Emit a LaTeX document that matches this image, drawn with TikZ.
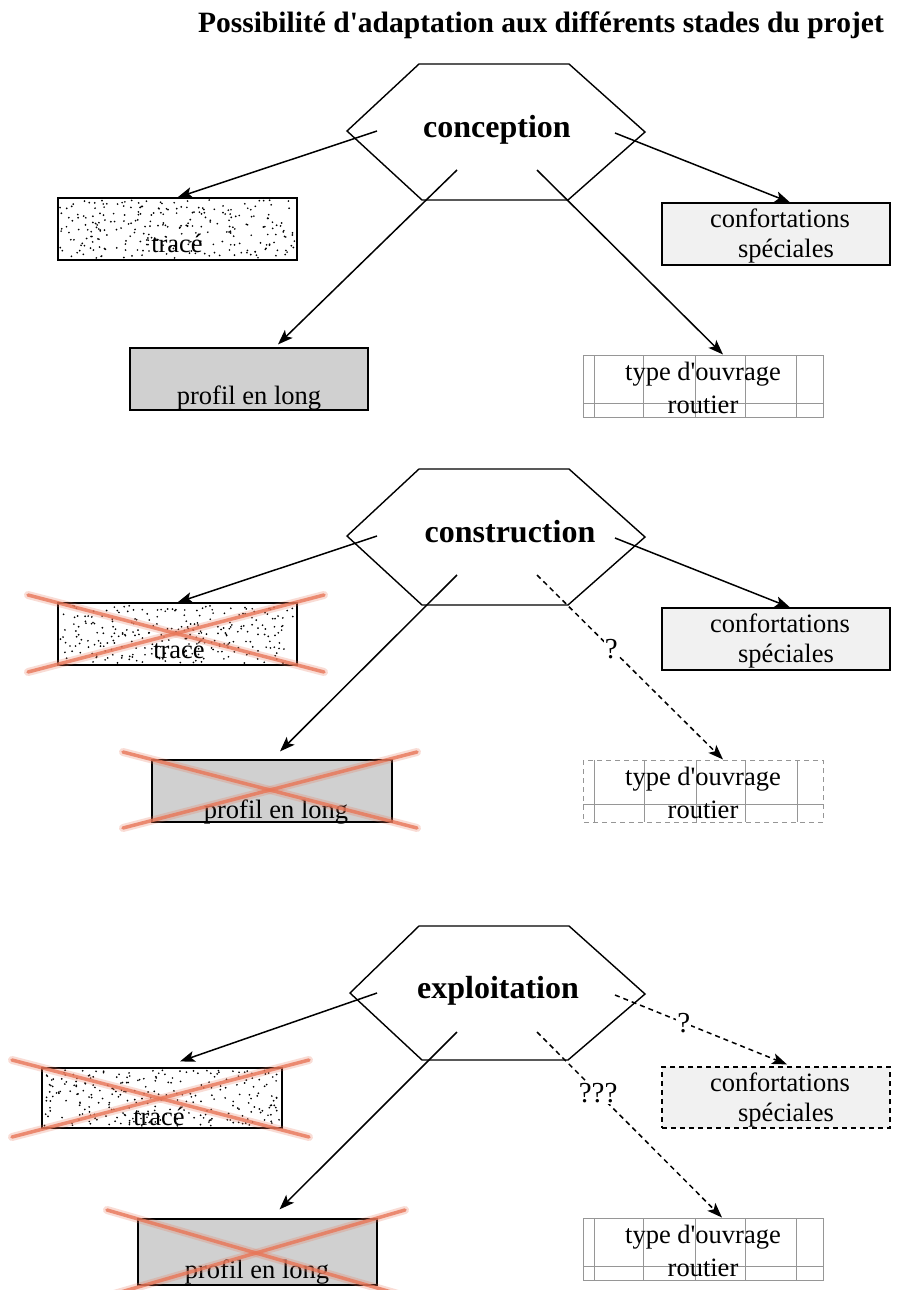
\documentclass[tikz,border=0pt]{standalone}
\usepackage{fontspec}
\setmainfont{Liberation Serif}
\usetikzlibrary{arrows.meta,calc}
\definecolor{crossred}{RGB}{232,118,88}
\definecolor{gridgray}{RGB}{150,150,150}
\definecolor{profgray}{RGB}{208,208,208}
\definecolor{confgray}{RGB}{241,241,241}
\newcommand\mystipple[4]{% x0 y0 w h
  \foreach \i in {1,...,270} {\fill[black] ({#1+2+rnd*(#3-4)},{#2+2+rnd*(#4-4)}) circle (0.95);}}
\newcommand\mycross[4]{% x1 y1 x2 y2
  \draw[crosshalo] (#1,#2) -- (#3,#4); \draw[crosshalo] (#1,#4) -- (#3,#2);
  \draw[crossline] (#1,#2) -- (#3,#4); \draw[crossline] (#1,#4) -- (#3,#2);}
\tikzset{
  hexa/.style={draw=black, line width=1.4pt, fill=white, line join=miter},
  arr/.style={line width=1.5pt, -{Stealth[length=15pt,width=11pt,inset=3.5pt]}},
  darr/.style={arr, dash pattern=on 5pt off 4pt},
  boxlbl/.style={font=\fontsize{26.5}{30}\selectfont, inner sep=0pt, anchor=base},
  hexlbl/.style={font=\bfseries\fontsize{32}{36}\selectfont, inner sep=0pt, anchor=base},
  qlbl/.style={font=\fontsize{29}{30}\selectfont, inner sep=0pt},
  titlelbl/.style={font=\bfseries\fontsize{29.5}{32}\selectfont, inner sep=0pt, anchor=base},
  crossline/.style={line width=3.5pt, draw=crossred, opacity=0.8, line cap=round},
  crosshalo/.style={line width=8pt, draw=crossred, opacity=0.25, line cap=round},
  solidbox/.style={draw=black, line width=1.2pt, inner sep=0pt},
  gridbox/.style={draw=gridgray, line width=1pt, inner sep=0pt, minimum width=240pt, minimum height=62pt},
  gridline/.style={draw=gridgray, line width=1pt},
  dgridline/.style={gridline, dash pattern=on 5pt off 4pt},
}
\begin{document}
\begin{tikzpicture}[x=1pt,y=-1pt]
\useasboundingbox (0,0) rectangle (899,1290);
\clip (0,0) rectangle (899,1290);
\fill[white] (0,0) rectangle (899,1290);
\pgfmathsetseed{7}

% title
\node[titlelbl] (title) at (541,33) {Possibilité d\textquotesingle adaptation aux différents stades du projet};

% ================= section 1 : conception =================
\draw[hexa] (419,64) -- (569,64) -- (645,132) -- (568,200) -- (422,200) -- (347,131) -- cycle;
\node[hexlbl] (hex1) at (497,137) {conception};
\coordinate (s1a) at (377,131);
\coordinate (s1b) at (457,170);
\coordinate (s1c) at (537,170);
\coordinate (s1d) at (615,133);

\node[solidbox, fill=white, minimum width=239pt, minimum height=62pt] (trace1) at (177.5,229) {};
\mystipple{58}{198}{239}{62}
\node[boxlbl] (tracet1) at (177,252) {tracé};

\node[solidbox, fill=confgray, minimum width=228pt, minimum height=62pt] (conf1) at (776,234) {};
\node[boxlbl] (conft1a) at (780,227) {confortations};
\node[boxlbl] (conft1b) at (786,257) {spéciales};

\node[solidbox, fill=profgray, minimum width=238pt, minimum height=62pt] (prof1) at (249,379) {};
\node[boxlbl] (proft1) at (249,404) {profil en long};

\node[gridbox] (type1) at (703,386) {};
\foreach \x in {594,643,695,745,796} {\draw[gridline] (\x,355) -- (\x,417);}
\draw[gridline] (583,403) -- (823,403);
\node[boxlbl] (typet1a) at (703,380) {type d\textquotesingle ouvrage};
\node[boxlbl] (typet1b) at (703,413) {routier};

\draw[arr] (s1a) -- (trace1.north);
\draw[arr] (s1b) -- ([xshift=29pt,yshift=3pt]prof1.north);
\draw[arr] (s1c) -- ([xshift=20pt]type1.north);
\draw[arr] (s1d) -- ([xshift=14pt]conf1.north);

% ================= section 2 : construction =================
\draw[hexa] (419,469) -- (569,469) -- (645,537) -- (568,605) -- (422,605) -- (347,536) -- cycle;
\node[hexlbl] (hex2) at (510,542) {construction};
\coordinate (s2a) at (377,536);
\coordinate (s2b) at (457,575);
\coordinate (s2c) at (537,575);
\coordinate (s2d) at (615,538);

\node[solidbox, fill=white, minimum width=239pt, minimum height=62pt] (trace2) at (177.5,634) {};
\mystipple{58}{603}{239}{62}
\node[boxlbl] (tracet2) at (179,658) {tracé};
\mycross{28}{595}{324}{672}

\node[solidbox, fill=confgray, minimum width=228pt, minimum height=62pt] (conf2) at (776,639) {};
\node[boxlbl] (conft2a) at (780,632) {confortations};
\node[boxlbl] (conft2b) at (786,662) {spéciales};

\node[solidbox, fill=profgray, minimum width=240pt, minimum height=62pt] (prof2) at (272,791) {};
\node[boxlbl] (proft2) at (276,818) {profil en long};
\mycross{123}{752}{417}{828}

\node[gridbox, draw=none] (type2) at (703,791) {};
\draw[dgridline] (583,760) rectangle (823,822);
\foreach \x in {594,644,696,745,797} {\draw[gridline] (\x,760) -- (\x,822);}
\draw[gridline] (583,804) -- (823,804);
\node[boxlbl] (typet2a) at (703,785) {type d\textquotesingle ouvrage};
\node[boxlbl] (typet2b) at (703,818) {routier};

\draw[arr] (s2a) -- (trace2.north);
\draw[arr] (s2b) -- ([xshift=8pt,yshift=8pt]prof2.north);
\draw[darr] (s2c) -- node[qlbl, pos=0.4, fill=white, inner sep=1pt] (q2) {?} ([xshift=20pt]type2.north);
\draw[arr] (s2d) -- ([xshift=14pt]conf2.north);

% ================= section 3 : exploitation =================
\draw[hexa] (419,926) -- (569,926) -- (645,994) -- (568,1060) -- (422,1060) -- (350,993) -- cycle;
\node[hexlbl] (hex3) at (498,998) {exploitation};
\coordinate (s3a) at (377,993);
\coordinate (s3b) at (457,1032);
\coordinate (s3c) at (537,1032);
\coordinate (s3d) at (615,995);

\node[solidbox, fill=white, minimum width=240pt, minimum height=60pt] (trace3) at (162,1098) {};
\mystipple{42}{1068}{240}{60}
\node[boxlbl] (tracet3) at (159,1125) {tracé};
\mycross{12}{1060}{309}{1137}

\node[solidbox, fill=confgray, dash pattern=on 5pt off 4pt, minimum width=228pt, minimum height=61pt] (conf3) at (776,1097.5) {};
\node[boxlbl] (conft3a) at (780,1091) {confortations};
\node[boxlbl] (conft3b) at (786,1121) {spéciales};

\node[solidbox, fill=profgray, minimum width=239pt, minimum height=66pt] (prof3) at (257.5,1252) {};
\node[boxlbl] (proft3) at (257,1278) {profil en long};
\mycross{107}{1210}{405}{1296}

\node[gridbox] (type3) at (703,1249) {};
\foreach \x in {594,643,695,745,796} {\draw[gridline] (\x,1218) -- (\x,1280);}
\draw[gridline] (583,1266) -- (823,1266);
\node[boxlbl] (typet3a) at (703,1243) {type d\textquotesingle ouvrage};
\node[boxlbl] (typet3b) at (703,1276) {routier};

\draw[arr] (s3a) -- ([xshift=18pt,yshift=6pt]trace3.north);
\draw[arr] (s3b) -- ([xshift=22pt,yshift=9pt]prof3.north);
\draw[darr] (s3c) -- node[qlbl, pos=0.33, fill=white, inner sep=1pt] (q3b) {???} ([xshift=19pt]type3.north);
\draw[darr] (s3d) -- node[qlbl, pos=0.4, fill=white, inner sep=1pt] (q3a) {?} ([xshift=11pt,yshift=2pt]conf3.north);
\end{tikzpicture}
\end{document}
